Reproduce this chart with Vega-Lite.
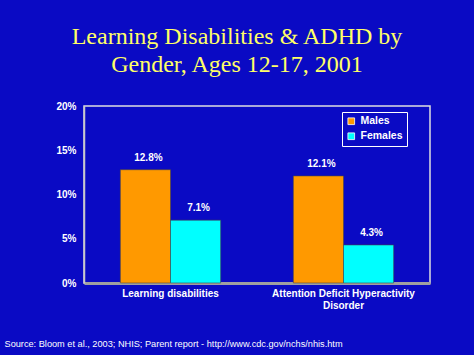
{
  "$schema": "https://vega.github.io/schema/vega-lite/v6.json",
  "width": 346,
  "height": 177,
  "autosize": {"type": "none"},
  "padding": {"left": 84, "top": 106, "right": 44, "bottom": 72},
  "background": "#0a0ac4",
  "title": {
    "text": ["Learning Disabilities & ADHD by", "Gender, Ages 12-17, 2001"],
    "color": "#ffff66",
    "font": "Liberation Serif",
    "fontSize": 24,
    "fontWeight": "normal",
    "lineHeight": 28,
    "anchor": "middle",
    "dx": -20,
    "offset": 24
  },
  "data": {
    "values": [
      {"condition": "Learning disabilities", "gender": "Males", "rate": 0.128, "label": "12.8%"},
      {"condition": "Learning disabilities", "gender": "Females", "rate": 0.071, "label": "7.1%"},
      {"condition": "Attention Deficit Hyperactivity Disorder", "gender": "Males", "rate": 0.121, "label": "12.1%"},
      {"condition": "Attention Deficit Hyperactivity Disorder", "gender": "Females", "rate": 0.043, "label": "4.3%"}
    ]
  },
  "encoding": {
    "x": {
      "field": "condition",
      "type": "nominal",
      "sort": null,
      "scale": {"paddingInner": 0.42, "paddingOuter": 0.21},
      "axis": {
        "title": "Source: Bloom et al., 2003; NHIS; Parent report - http://www.cdc.gov/nchs/nhis.htm",
        "titleFont": "Liberation Sans",
        "titleFontSize": 9.2,
        "titleFontWeight": "normal",
        "titleColor": "white",
        "titleAnchor": "start",
        "titleAlign": "left",
        "titleBaseline": "alphabetic",
        "titleX": -80,
        "titleY": 63,
        "labelAngle": 0,
        "labelExpr": "datum.label == 'Attention Deficit Hyperactivity Disorder' ? ['Attention Deficit Hyperactivity', 'Disorder'] : datum.label",
        "labelFont": "Liberation Sans",
        "labelFontWeight": "bold",
        "labelFontSize": 10,
        "labelColor": "white",
        "labelPadding": 5,
        "labelLineHeight": 12,
        "ticks": false,
        "domainColor": "#a0a0a0",
        "domainWidth": 3
      }
    },
    "xOffset": {"field": "gender", "type": "nominal", "sort": ["Males", "Females"], "scale": {"paddingInner": 0}},
    "y": {
      "field": "rate",
      "type": "quantitative",
      "scale": {"domain": [0, 0.2]},
      "axis": {
        "title": null,
        "values": [0, 0.05, 0.1, 0.15, 0.2],
        "format": ".0%",
        "grid": false,
        "ticks": false,
        "labelFont": "Liberation Sans",
        "labelFontWeight": "bold",
        "labelFontSize": 10,
        "labelColor": "white",
        "labelPadding": 8,
        "domainColor": "#c8c8c8",
        "domainWidth": 1.5
      }
    }
  },
  "layer": [
    {
      "mark": {"type": "bar", "stroke": "#444444", "strokeWidth": 0.6},
      "encoding": {
        "color": {
          "field": "gender",
          "type": "nominal",
          "sort": ["Males", "Females"],
          "scale": {"domain": ["Males", "Females"], "range": ["#ff9900", "#00ffff"]},
          "legend": {
            "title": null,
            "orient": "none",
            "legendX": 258,
            "legendY": 6,
            "strokeColor": "white",
            "padding": 4,
            "symbolType": "square",
            "symbolSize": 45,
            "symbolStrokeColor": "white",
            "symbolStrokeWidth": 0.8,
            "labelFont": "Liberation Sans",
            "labelFontWeight": "bold",
            "labelFontSize": 10.5,
            "labelColor": "white",
            "rowPadding": 4,
            "columnPadding": 3
          }
        }
      }
    },
    {
      "mark": {
        "type": "text",
        "baseline": "bottom",
        "dy": -7,
        "dx": 3,
        "font": "Liberation Sans",
        "fontWeight": "bold",
        "fontSize": 10,
        "color": "white"
      },
      "encoding": {"text": {"field": "label"}}
    }
  ],
  "config": {
    "view": {"stroke": "#e0e0e0", "strokeWidth": 1.5}
  }
}
